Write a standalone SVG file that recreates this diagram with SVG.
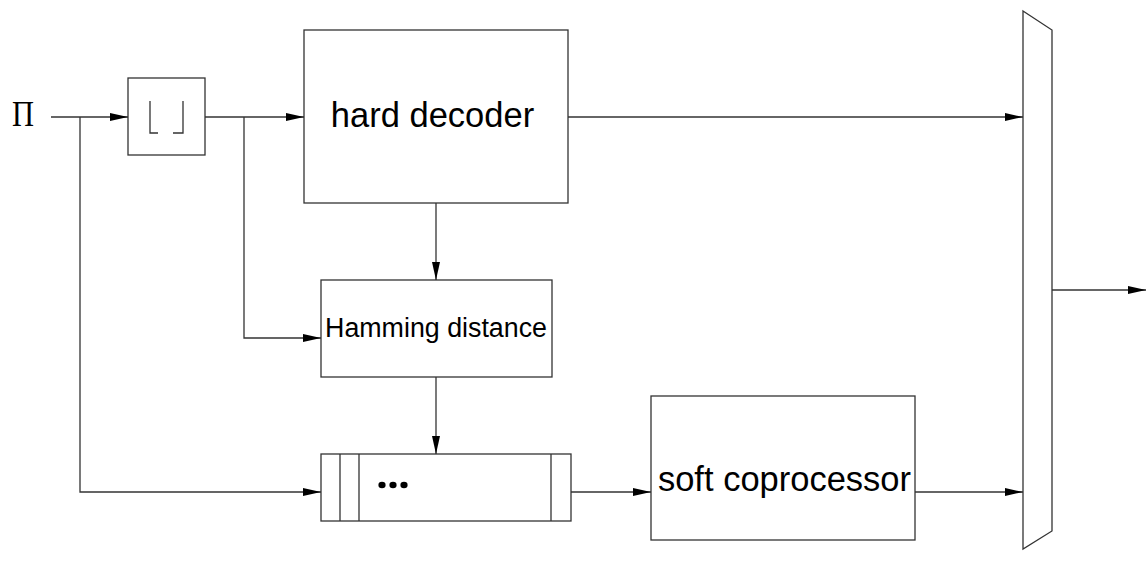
<svg xmlns="http://www.w3.org/2000/svg" width="1146" height="570" viewBox="0 0 1146 570">
<style>
.box{fill:#fff;stroke:#333;stroke-width:1.3}
.ln{fill:none;stroke:#333;stroke-width:1.3}
.t{font-family:"Liberation Sans",Arial,sans-serif;fill:#000}
</style>
<defs>
<marker id="ah" markerWidth="18" markerHeight="8" refX="18" refY="4" orient="auto" markerUnits="userSpaceOnUse">
<path d="M0,0 L18,4 L0,8 Z" fill="#000"/>
</marker>
</defs>
<rect width="1146" height="570" fill="#fff"/>
<text x="12" y="126" font-family="Liberation Serif,serif" font-size="36" textLength="22" lengthAdjust="spacingAndGlyphs">Π</text>
<g id="floor">
<rect class="box" x="128" y="78" width="77" height="77"/>
<path class="ln" d="M150,101 V133 H158 M173,133 H183 V101"/>
</g>
<g id="hard-decoder">
<rect class="box" x="304" y="30" width="264" height="173"/>
<text class="t" x="432.5" y="127" font-size="34.5" text-anchor="middle">hard decoder</text>
</g>
<g id="hamming">
<rect class="box" x="321" y="280" width="231" height="97"/>
<text class="t" x="436" y="337" font-size="26.8" text-anchor="middle">Hamming distance</text>
</g>
<g id="queue">
<rect class="box" x="321" y="454" width="250" height="67"/>
<path class="ln" d="M340,454 V521 M359,454 V521 M551,454 V521"/>
<ellipse cx="382" cy="485" rx="3.6" ry="3.2" fill="#000"/>
<ellipse cx="393" cy="485" rx="3.6" ry="3.2" fill="#000"/>
<ellipse cx="404" cy="485" rx="3.6" ry="3.2" fill="#000"/>
</g>
<g id="soft-coprocessor">
<rect class="box" x="651" y="396" width="264" height="144"/>
<text class="t" x="784.5" y="491" font-size="34.5" text-anchor="middle">soft coprocessor</text>
</g>
<g id="mux">
<polygon class="box" points="1023,11 1052,30 1052,531 1023,549"/>
</g>
<g id="connectors">
<path class="ln" d="M51,117 H128" marker-end="url(#ah)"/>
<path class="ln" d="M80,117 V492 H321" marker-end="url(#ah)"/>
<path class="ln" d="M205,117 H304" marker-end="url(#ah)"/>
<path class="ln" d="M244,117 V338 H321" marker-end="url(#ah)"/>
<path class="ln" d="M568,117 H1023" marker-end="url(#ah)"/>
<path class="ln" d="M436,203 V280" marker-end="url(#ah)"/>
<path class="ln" d="M436,377 V454" marker-end="url(#ah)"/>
<path class="ln" d="M571,492 H651" marker-end="url(#ah)"/>
<path class="ln" d="M915,492 H1023" marker-end="url(#ah)"/>
<path class="ln" d="M1052,290 H1146" marker-end="url(#ah)"/>
</g>
</svg>
